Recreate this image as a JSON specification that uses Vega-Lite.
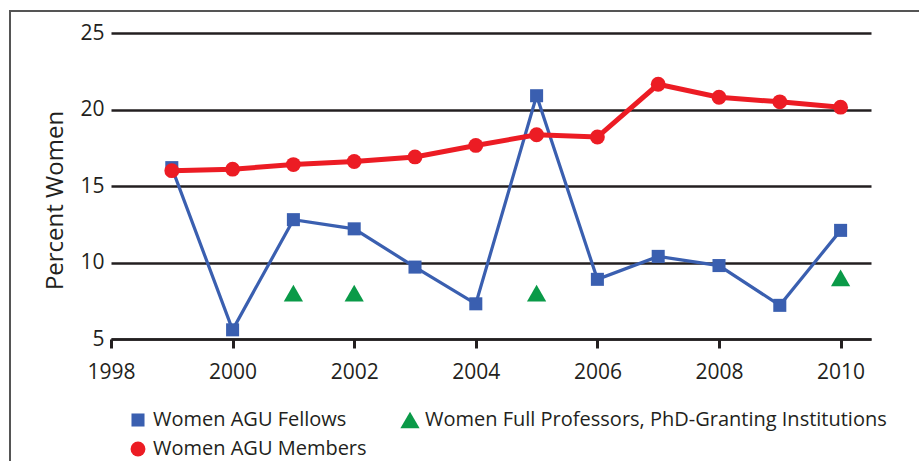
{
  "$schema": "https://vega.github.io/schema/vega-lite/v6.json",
  "width": 760,
  "height": 306,
  "autosize": {"type": "none"},
  "padding": {"left": 111, "top": 33, "right": 48, "bottom": 122},
  "background": "white",
  "config": {
    "view": {"stroke": null},
    "font": "Open Sans"
  },
  "data": {
    "values": [
      {"year": 1999, "series": "Women AGU Fellows", "value": 16.2},
      {"year": 2000, "series": "Women AGU Fellows", "value": 5.6},
      {"year": 2001, "series": "Women AGU Fellows", "value": 12.8},
      {"year": 2002, "series": "Women AGU Fellows", "value": 12.2},
      {"year": 2003, "series": "Women AGU Fellows", "value": 9.7},
      {"year": 2004, "series": "Women AGU Fellows", "value": 7.3},
      {"year": 2005, "series": "Women AGU Fellows", "value": 20.9},
      {"year": 2006, "series": "Women AGU Fellows", "value": 8.9},
      {"year": 2007, "series": "Women AGU Fellows", "value": 10.4},
      {"year": 2008, "series": "Women AGU Fellows", "value": 9.8},
      {"year": 2009, "series": "Women AGU Fellows", "value": 7.2},
      {"year": 2010, "series": "Women AGU Fellows", "value": 12.1},
      {"year": 1999, "series": "Women AGU Members", "value": 16.0},
      {"year": 2000, "series": "Women AGU Members", "value": 16.1},
      {"year": 2001, "series": "Women AGU Members", "value": 16.4},
      {"year": 2002, "series": "Women AGU Members", "value": 16.6},
      {"year": 2003, "series": "Women AGU Members", "value": 16.9},
      {"year": 2004, "series": "Women AGU Members", "value": 17.65},
      {"year": 2005, "series": "Women AGU Members", "value": 18.35},
      {"year": 2006, "series": "Women AGU Members", "value": 18.2},
      {"year": 2007, "series": "Women AGU Members", "value": 21.65},
      {"year": 2008, "series": "Women AGU Members", "value": 20.8},
      {"year": 2009, "series": "Women AGU Members", "value": 20.5},
      {"year": 2010, "series": "Women AGU Members", "value": 20.15},
      {"year": 2001, "series": "Women Full Professors, PhD-Granting Institutions", "value": 8.0},
      {"year": 2002, "series": "Women Full Professors, PhD-Granting Institutions", "value": 8.0},
      {"year": 2005, "series": "Women Full Professors, PhD-Granting Institutions", "value": 8.0},
      {"year": 2010, "series": "Women Full Professors, PhD-Granting Institutions", "value": 9.0}
    ]
  },
  "layer": [
    {
      "mark": {"type": "rect", "fill": null, "stroke": "#555555", "strokeWidth": 1.5, "clip": false},
      "encoding": {
        "x": {"datum": 1996.34, "type": "quantitative", "scale": {"domain": [1998, 2010.5]}},
        "x2": {"datum": 2016},
        "y": {"datum": 26.44, "type": "quantitative"},
        "y2": {"datum": -10}
      }
    },
    {
      "transform": [{"filter": "datum.series === 'Women AGU Fellows'"}],
      "mark": {"type": "line", "color": "#3a5fb0", "strokeWidth": 3.2},
      "encoding": {
        "x": {"field": "year", "type": "quantitative"},
        "y": {"field": "value", "type": "quantitative"}
      }
    },
    {
      "transform": [{"filter": "datum.series === 'Women AGU Members'"}],
      "mark": {"type": "line", "color": "#ec1c24", "strokeWidth": 5},
      "encoding": {
        "x": {"field": "year", "type": "quantitative"},
        "y": {"field": "value", "type": "quantitative"}
      }
    },
    {
      "mark": {"type": "point", "filled": true, "opacity": 1},
      "encoding": {
        "x": {
          "field": "year", "type": "quantitative",
          "scale": {"domain": [1998, 2010.5], "nice": false, "zero": false},
          "axis": {
            "title": null, "values": [1998, 2000, 2002, 2004, 2006, 2008, 2010], "format": "d",
            "grid": false, "domain": true, "domainColor": "#231f20", "domainWidth": 2.5,
            "ticks": true, "tickColor": "#231f20", "tickWidth": 3, "tickSize": 9,
            "labelFontSize": 21, "labelColor": "#231f20", "labelPadding": 13, "labelFlush": false
          }
        },
        "y": {
          "field": "value", "type": "quantitative",
          "scale": {"domain": [5, 25], "nice": false, "zero": false},
          "axis": {
            "title": "Percent Women", "titleFontSize": 24, "titleFontWeight": "normal", "titleColor": "#231f20", "titlePadding": 12, "titleY": 167,
            "values": [5, 10, 15, 20, 25],
            "grid": true, "gridColor": "#231f20", "gridWidth": 2.5, "gridOpacity": 1,
            "domain": false, "ticks": false,
            "labelFontSize": 21, "labelColor": "#231f20", "labelPadding": 7
          }
        },
        "color": {
          "field": "series", "type": "nominal",
          "scale": {
            "domain": ["Women AGU Fellows", "Women Full Professors, PhD-Granting Institutions", "Women AGU Members"],
            "range": ["#3a5fb0", "#0a9a48", "#ec1c24"]
          },
          "legend": {
            "title": null, "orient": "none", "legendX": 17, "legendY": 377, "columns": 2, "direction": "horizontal",
            "labelFontSize": 20, "labelColor": "#231f20", "labelLimit": 600, "symbolStrokeWidth": 0,
            "columnPadding": 33, "rowPadding": 9, "labelOffset": 5, "padding": 0
          }
        },
        "shape": {
          "field": "series", "type": "nominal",
          "scale": {
            "domain": ["Women AGU Fellows", "Women Full Professors, PhD-Granting Institutions", "Women AGU Members"],
            "range": ["square", "triangle-up", "circle"]
          },
          "legend": {
            "title": null, "orient": "none", "legendX": 17, "legendY": 377, "columns": 2, "direction": "horizontal",
            "labelFontSize": 20, "labelColor": "#231f20", "labelLimit": 600, "symbolStrokeWidth": 0,
            "columnPadding": 33, "rowPadding": 9, "labelOffset": 5, "padding": 0
          }
        },
        "size": {
          "field": "series", "type": "nominal",
          "scale": {
            "type": "ordinal",
            "domain": ["Women AGU Fellows", "Women Full Professors, PhD-Granting Institutions", "Women AGU Members"],
            "range": [170, 370, 220]
          },
          "legend": {
            "title": null, "orient": "none", "legendX": 17, "legendY": 377, "columns": 2, "direction": "horizontal",
            "labelFontSize": 20, "labelColor": "#231f20", "labelLimit": 600, "symbolStrokeWidth": 0,
            "columnPadding": 33, "rowPadding": 9, "labelOffset": 5, "padding": 0
          }
        }
      }
    }
  ]
}
